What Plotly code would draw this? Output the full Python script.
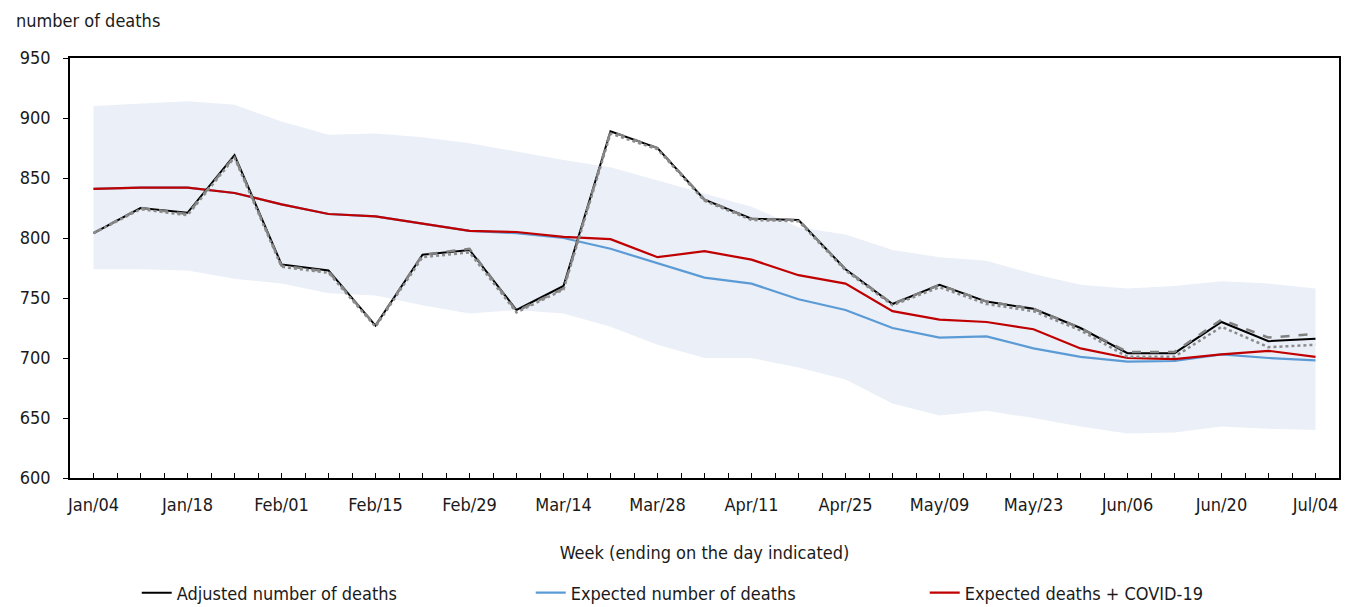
import plotly.graph_objects as go

weeks = ["Jan/04", "Jan/11", "Jan/18", "Jan/25", "Feb/01", "Feb/08", "Feb/15", "Feb/22",
         "Feb/29", "Mar/07", "Mar/14", "Mar/21", "Mar/28", "Apr/04", "Apr/11", "Apr/18",
         "Apr/25", "May/02", "May/09", "May/16", "May/23", "May/30", "Jun/06", "Jun/13",
         "Jun/20", "Jun/27", "Jul/04"]

adjusted = [804, 825, 821, 869, 778, 773, 727, 786, 790, 740, 760, 889, 875, 832, 816, 815,
            774, 745, 761, 747, 741, 725, 704, 704, 730, 714, 716]
adjusted_hi = [804, 825, 820, 868, 777, 772, 727, 786, 791, 739, 758, 889, 875, 832, 816, 815,
               774, 745, 761, 747, 741, 725, 705, 705, 732, 717, 720]
adjusted_lo = [804, 824, 819, 867, 776, 771, 726, 784, 788, 738, 757, 887, 874, 831, 815, 814,
               773, 744, 759, 745, 739, 723, 701, 701, 726, 709, 711]
expected = [841, 842, 842, 837.5, 828, 820, 818, 812, 806, 804, 800, 791, 779, 767, 762, 749,
            740, 725, 717, 718, 708, 701, 697, 697.5, 703, 700, 698]
expected_covid = [841, 842, 842, 837.5, 828, 820, 818, 812, 806, 805, 801, 799, 784, 789, 782,
                  769, 762, 739, 732, 730, 724, 708, 700, 699, 703, 706, 701]
band_upper = [910, 912, 914, 911, 897, 886, 887, 884, 879, 872, 865, 859, 848, 837.5, 826, 809,
              803, 790, 784, 781, 770, 761, 758, 760, 764, 762, 758]
band_lower = [774, 774, 773, 766, 762, 754, 752, 744, 737, 740, 737, 726, 711, 700, 700, 692,
              682, 662, 652, 656, 650, 643, 637, 638, 643, 641, 640]

x = list(range(len(weeks)))
FONT = "DejaVu Sans Condensed, Liberation Sans Narrow, Arial Narrow, sans-serif"
FS = 18
TXT = "#1a1a1a"

# page body has an 8px margin; layout numbers below are in figure coordinates
W, H = 1352, 620
PL, PT, PW, PH = 57, 50, 1274, 420

fig = go.Figure()
fig.add_trace(go.Scatter(x=x, y=band_lower, mode="lines", line=dict(width=0),
                         showlegend=False, hoverinfo="skip"))
fig.add_trace(go.Scatter(x=x, y=band_upper, mode="lines", line=dict(width=0),
                         fill="tonexty", fillcolor="#EAEFF8", showlegend=False, hoverinfo="skip"))
fig.add_trace(go.Scatter(x=x, y=expected, mode="lines", name="Expected number of deaths",
                         line=dict(color="#5B9BD5", width=2.2), legendrank=2))
fig.add_trace(go.Scatter(x=x, y=expected_covid, mode="lines", name="Expected deaths + COVID-19",
                         line=dict(color="#C00000", width=2.2), legendrank=3))
fig.add_trace(go.Scatter(x=x, y=adjusted, mode="lines", name="Adjusted number of deaths",
                         line=dict(color="#000000", width=2), legendrank=1))
fig.add_trace(go.Scatter(x=x, y=adjusted_hi, mode="lines", showlegend=False,
                         line=dict(color="#808080", width=2.5, dash="dash")))
fig.add_trace(go.Scatter(x=x, y=adjusted_lo, mode="lines", showlegend=False,
                         line=dict(color="#8C8C8C", width=2.5, dash="dot")))

tickvals = [i * 0.5 for i in range(2 * len(weeks) - 1)]
ticktext = []
for v in tickvals:
    if v == int(v) and int(v) % 2 == 0:
        ticktext.append(weeks[int(v)])
    else:
        ticktext.append("")

fig.update_layout(
    width=W, height=H,
    margin=dict(l=PL, r=W - PL - PW, t=PT, b=H - PT - PH),
    paper_bgcolor="white", plot_bgcolor="white",
    font=dict(family=FONT, size=FS, color=TXT),
    showlegend=True,
    legend=dict(orientation="h", x=67 / PW, xanchor="left",
                y=-115 / PH, yanchor="middle",
                entrywidth=349, entrywidthmode="pixels", traceorder="normal",
                itemwidth=30, bgcolor="rgba(0,0,0,0)",
                font=dict(family=FONT, size=FS, color=TXT)),
    xaxis=dict(range=[-0.5, len(weeks) - 0.5], tickmode="array", tickvals=tickvals,
               ticktext=ticktext, ticks="inside", ticklen=5, tickcolor="black",
               showline=True, linecolor="black", linewidth=1.5, mirror=True,
               showgrid=False, zeroline=False, ticklabelstandoff=10,
               title=dict(text="Week (ending on the day indicated)", standoff=32,
                          font=dict(family=FONT, size=FS))),
    yaxis=dict(range=[600, 950], dtick=50, ticks="outside", ticklen=5, tickcolor="black",
               showline=True, linecolor="black", linewidth=1.5, mirror=True,
               showgrid=False, zeroline=False, ticklabelstandoff=9),
    annotations=[dict(text="number of deaths", xref="paper", yref="paper",
                      x=-(PL - 2) / PW, y=1 + 38 / PH, xanchor="left", yanchor="middle",
                      borderpad=0, showarrow=False,
                      font=dict(family=FONT, size=FS, color=TXT))],
)

fig.write_html("out.html")
